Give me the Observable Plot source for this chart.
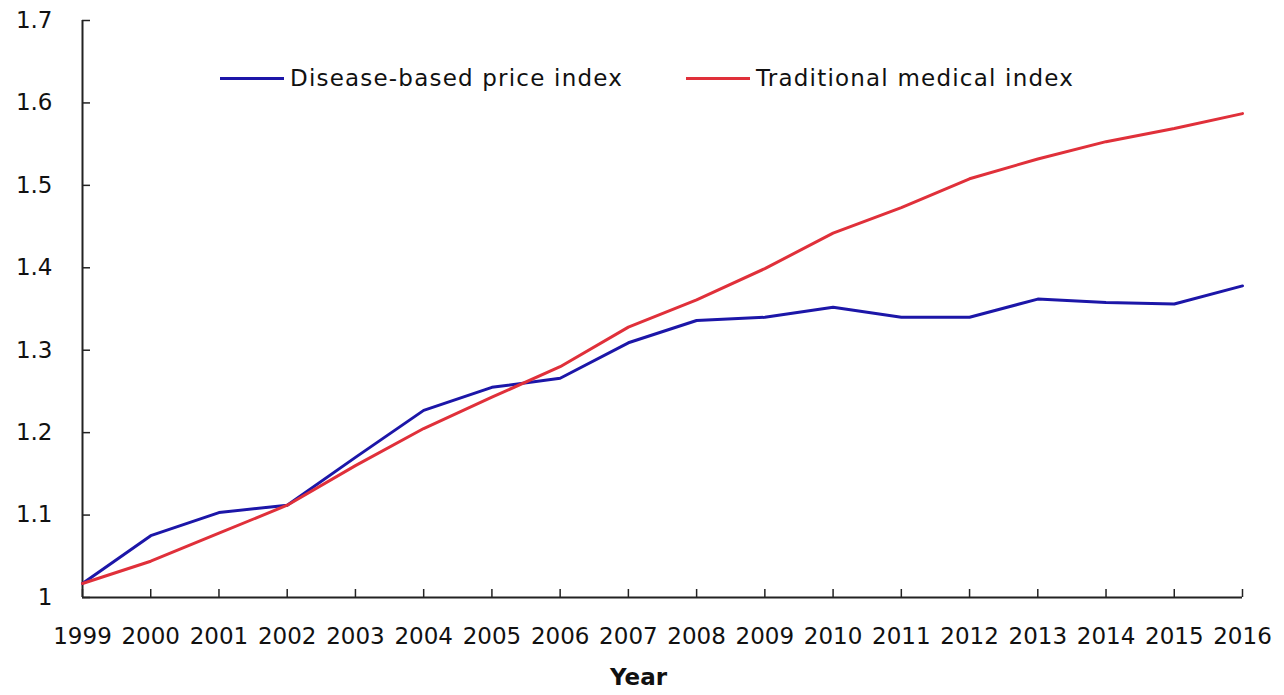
<!DOCTYPE html>
<html>
<head>
<meta charset="utf-8">
<script src="https://cdn.jsdelivr.net/npm/d3@7"></script>
<script src="https://cdn.jsdelivr.net/npm/@observablehq/plot@0.6"></script>
<style>
  html, body { margin: 0; padding: 0; background: #fff; }
  #wrap { position: relative; width: 1284px; height: 695px; font-family: "DejaVu Sans", sans-serif; }
  .leg { position: absolute; top: 65px; display: flex; align-items: center; font-size: 23px; color: #111; white-space: nowrap; }
  .leg .sw { width: 64px; height: 3px; margin-right: 6px; }
  .leg .tx { letter-spacing: 1.2px; }
</style>
</head>
<body>
<div id="wrap"></div>
<script>
const years = [1999,2000,2001,2002,2003,2004,2005,2006,2007,2008,2009,2010,2011,2012,2013,2014,2015,2016];
const diseaseBased = [1.017,1.075,1.103,1.112,1.170,1.227,1.255,1.266,1.309,1.336,1.340,1.352,1.340,1.340,1.362,1.358,1.356,1.378];
const traditional = [1.017,1.044,1.078,1.112,1.160,1.205,1.243,1.280,1.328,1.361,1.399,1.442,1.473,1.508,1.532,1.553,1.569,1.587];
const yTicks = [1,1.1,1.2,1.3,1.4,1.5,1.6,1.7];
const seriesNames = ["Disease-based price index", "Traditional medical index"];
const colors = ["#1c16a8", "#e0303a"];

const W = 1284, H = 695;
const mL = 82, mR = 42, mT = 20, mB = 98;
const pw = W - mL - mR, ph = H - mT - mB;

const rows = [];
years.forEach((y, i) => {
  rows.push({year: y, value: diseaseBased[i], series: seriesNames[0]});
  rows.push({year: y, value: traditional[i], series: seriesNames[1]});
});

const chart = Plot.plot({
  width: W, height: H,
  marginLeft: mL, marginRight: mR, marginTop: mT, marginBottom: mB,
  style: {fontFamily: "DejaVu Sans, sans-serif", fontSize: "23px", color: "#111", background: "#fff"},
  x: {domain: [1999, 2016]},
  y: {domain: [1, 1.7]},
  color: {domain: seriesNames, range: colors},
  marks: [
    Plot.axisX({ticks: years, tickFormat: d => String(d), tickSize: 0, tickPadding: 30, label: null, fontSize: 23}),
    Plot.axisY({ticks: yTicks, tickFormat: d => String(+d.toFixed(1)), tickSize: 0, tickPadding: 30, label: null, fontSize: 23}),
    Plot.tickX(years, {x: d => d, insetTop: ph - 8, stroke: "#222", strokeWidth: 1.5}),
    Plot.tickY(yTicks, {y: d => d, insetRight: pw - 8, stroke: "#222", strokeWidth: 1.5}),
    Plot.ruleX([1999], {stroke: "#222", strokeWidth: 2}),
    Plot.ruleY([1], {stroke: "#222", strokeWidth: 2}),
    Plot.line(rows, {x: "year", y: "value", stroke: "series", strokeWidth: 3, strokeLinejoin: "round"}),
    Plot.text(["Year"], {frameAnchor: "bottom", dy: 87, dx: -24, fontWeight: "bold", fontSize: 23, fill: "#111"})
  ]
});

const wrap = document.getElementById("wrap");
wrap.appendChild(chart);

const legPos = [220, 686];
seriesNames.forEach((name, i) => {
  const d = document.createElement("div");
  d.className = "leg";
  d.style.left = legPos[i] + "px";
  d.innerHTML = `<span class="sw" style="background:${colors[i]}"></span><span class="tx">${name}</span>`;
  wrap.appendChild(d);
});
</script>
</body>
</html>
